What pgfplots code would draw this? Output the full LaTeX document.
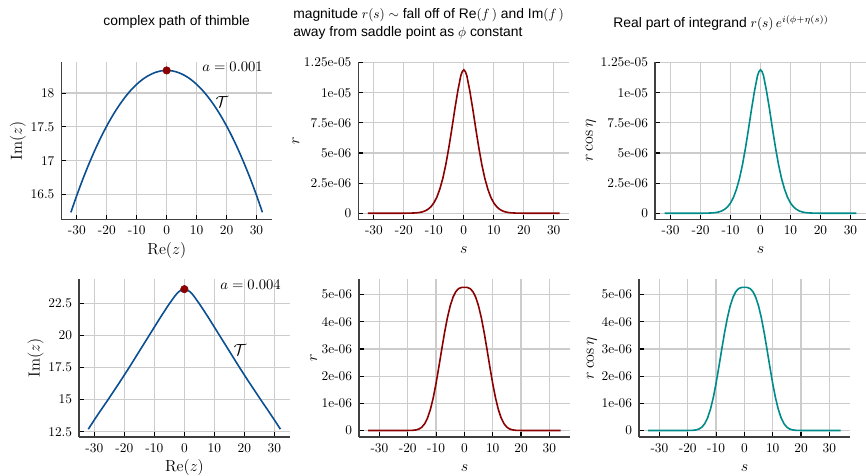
\documentclass[border=0pt]{standalone}
\usepackage{fontspec}
\usepackage{pgfplots}
\usepackage{pgfplotstable}
\pgfplotsset{compat=1.18}
\newfontfamily\titlefont{Liberation Sans}
\definecolor{thimbleblue}{HTML}{0B4F92}
\definecolor{magred}{HTML}{8B0000}
\definecolor{realteal}{HTML}{008B8B}

% thimble path, a = 0.001
\pgfplotstableread{
x y
-32 16.236
-30 16.490
-28 16.728
-26 16.949
-24 17.154
-22 17.343
-20 17.515
-18 17.671
-16 17.810
-14 17.933
-12 18.040
-10 18.130
-8 18.204
-6 18.261
-4 18.302
-2 18.327
0 18.335
2 18.327
4 18.302
6 18.261
8 18.204
10 18.130
12 18.040
14 17.933
16 17.810
18 17.671
20 17.515
22 17.343
24 17.154
26 16.949
28 16.728
30 16.490
32 16.236
}\thimbleA

% thimble path, a = 0.004
\pgfplotstableread{
x y
-32 12.70
-30 13.42
-28 14.12
-26 14.80
-24 15.50
-22 16.20
-20 16.92
-18 17.65
-16 18.40
-14 19.15
-12 19.90
-10 20.65
-8 21.40
-6 22.12
-5 22.47
-4 22.80
-3 23.12
-2 23.38
-1 23.55
0 23.61
1 23.55
2 23.38
3 23.12
4 22.80
5 22.47
6 22.12
8 21.40
10 20.65
12 19.90
14 19.15
16 18.40
18 17.65
20 16.92
22 16.20
24 15.50
26 14.80
28 14.12
30 13.42
32 12.70
}\thimbleB

% magnitude r(s), a = 0.001
\pgfplotstableread{
x y
-32 0
-26 0
-22 0
-20 0.002e-6
-18 0.0075e-6
-16 0.030e-6
-15 0.056e-6
-14 0.103e-6
-13 0.184e-6
-12 0.32e-6
-11 0.53e-6
-10 0.854e-6
-9 1.33e-6
-8 2.01e-6
-7 2.90e-6
-6 4.05e-6
-5 5.44e-6
-4 7.00e-6
-3 8.64e-6
-2 10.15e-6
-1 11.42e-6
-0.5 11.76e-6
0 11.90e-6
0.5 11.76e-6
1 11.42e-6
2 10.15e-6
3 8.64e-6
4 7.00e-6
5 5.44e-6
6 4.05e-6
7 2.90e-6
8 2.01e-6
9 1.33e-6
10 0.854e-6
11 0.53e-6
12 0.32e-6
13 0.184e-6
14 0.103e-6
15 0.056e-6
16 0.030e-6
18 0.0075e-6
20 0.002e-6
22 0
26 0
32 0
}\magA

% magnitude r(s), a = 0.004
\pgfplotstableread{
x y
-34 0
-28 0
-22 0
-20 0.001e-6
-18 0.008e-6
-17 0.022e-6
-16 0.055e-6
-15 0.123e-6
-14 0.249e-6
-13 0.457e-6
-12 0.771e-6
-11 1.198e-6
-10 1.732e-6
-9 2.342e-6
-8 2.981e-6
-7 3.598e-6
-6 4.144e-6
-5 4.586e-6
-4 4.908e-6
-3 5.114e-6
-2 5.223e-6
-1 5.264e-6
0 5.27e-6
1 5.264e-6
2 5.223e-6
3 5.114e-6
4 4.908e-6
5 4.586e-6
6 4.144e-6
7 3.598e-6
8 2.981e-6
9 2.342e-6
10 1.732e-6
11 1.198e-6
12 0.771e-6
13 0.457e-6
14 0.249e-6
15 0.123e-6
16 0.055e-6
17 0.022e-6
18 0.008e-6
20 0.001e-6
22 0
28 0
34 0
}\magB

\pgfplotsset{
  panel/.style={
    scale only axis,
    width=158.25pt, height=118.4pt,
    anchor=south west,
    axis x line*=bottom, axis y line*=left,
    axis line style={black!75, line width=1pt},
    tick align=inside,
    major tick length=3.5pt,
    tick style={black, line width=0.8pt},
    grid=major,
    major grid style={black!20, line width=0.9pt},
    tick label style={font=\fontsize{10}{12}\selectfont},
    xticklabel style={inner sep=0pt, yshift=-4.5pt},
    yticklabel style={inner sep=0pt, xshift=-5pt},
    label style={font=\fontsize{12}{14}\selectfont},
    xlabel style={at={(rel axis cs:0.5,0)}, anchor=center, yshift=-23pt},
    scaled ticks=false,
    xtick={-30,-20,-10,0,10,20,30},
    xticklabels={-30,-20,-10,0,10,20,30},
    clip=false,
  },
  topmag/.style={
    panel, xmin=-35.2, xmax=35.2, ymin=-0.52e-6, ymax=1.258e-5,
    ytick={0,2.5e-6,5e-6,7.5e-6,1e-5,1.25e-5},
    yticklabels={0,2.5e-06,5e-06,7.5e-06,1e-05,1.25e-05},
    xlabel={$s$},
  },
  botmag/.style={
    panel, xmin=-37.2, xmax=37.3, ymin=-0.24e-6, ymax=5.57e-6,
    ytick={0,1e-6,2e-6,3e-6,4e-6,5e-6},
    yticklabels={0,1e-06,2e-06,3e-06,4e-06,5e-06},
    xlabel={$s$},
  },
}

\begin{document}
\begin{tikzpicture}
\path[use as bounding box] (0,0) rectangle (649.5pt,-356.25pt);

% row 1: a = 0.001
\begin{axis}[panel, at={(45.98pt,-164.63pt)},
  xmin=-35.2, xmax=35.3, ymin=16.13, ymax=18.465,
  ytick={16.5,17,17.5,18}, yticklabels={16.5,17,17.5,18},
  xlabel={$\mathrm{Re}(z)$}, ylabel={$\mathrm{Im}(z)$}]
\addplot[thimbleblue, line width=1.2pt, smooth] table {\thimbleA};
\addplot[only marks, mark=*, mark size=2.8pt, color=magred] coordinates {(0,18.335)};
\end{axis}

\begin{axis}[topmag, at={(268.73pt,-164.63pt)}, ylabel={$r$}]
\addplot[magred, line width=1.2pt] table {\magA};
\end{axis}

\begin{axis}[topmag, at={(491.25pt,-164.63pt)}, ylabel={$r\cos\eta$}]
\addplot[realteal, line width=1.2pt] table {\magA};
\end{axis}

% row 2: a = 0.004
\begin{axis}[panel, at={(59.25pt,-327.75pt)},
  xmin=-35.1, xmax=35.2, ymin=12.09, ymax=24.39,
  ytick={12.5,15,17.5,20,22.5}, yticklabels={12.5,15,17.5,20,22.5},
  xlabel={$\mathrm{Re}(z)$}, ylabel={$\mathrm{Im}(z)$}]
\addplot[thimbleblue, line width=1.2pt, smooth] table {\thimbleB};
\addplot[only marks, mark=*, mark size=2.8pt, color=magred] coordinates {(0,23.61)};
\end{axis}

\begin{axis}[botmag, at={(269.25pt,-327.75pt)}, ylabel={$r$}]
\addplot[magred, line width=1.2pt] table {\magB};
\end{axis}

\begin{axis}[botmag, at={(479.25pt,-327.75pt)}, ylabel={$r\cos\eta$}]
\addplot[realteal, line width=1.2pt] table {\magB};
\end{axis}

% titles
\node[anchor=base, font=\titlefont\fontsize{10.4}{13.7}\selectfont] at (132.5pt,-19.28pt) {complex path of thimble};
\node[anchor=base west, font=\titlefont\fontsize{10.4}{13.7}\selectfont, inner sep=0pt] at (219.75pt,-13.73pt) {magnitude $r(s)\sim$ fall off of Re$(f\,)$ and Im$(f\,)$};
\node[anchor=base west, font=\titlefont\fontsize{10.4}{13.7}\selectfont, inner sep=0pt] at (219.75pt,-27pt) {away from saddle point as $\phi$ constant};
\node[anchor=base, font=\titlefont\fontsize{10.4}{13.7}\selectfont] at (540.75pt,-20.48pt) {Real part of integrand $r(s)\,e^{i(\phi+\eta(s))}$};

% annotations
\node[anchor=east, inner sep=0pt, font=\fontsize{11}{13}\selectfont] at (197.25pt,-50pt) {$a=0.001$};
\node[anchor=east, inner sep=0pt, font=\fontsize{11}{13}\selectfont] at (210.75pt,-213.75pt) {$a=0.004$};
\node[font=\fontsize{13}{15}\selectfont] at (166.5pt,-76.5pt) {$\mathcal{T}$};
\node[font=\fontsize{13}{15}\selectfont] at (180pt,-262.5pt) {$\mathcal{T}$};
\end{tikzpicture}
\end{document}
